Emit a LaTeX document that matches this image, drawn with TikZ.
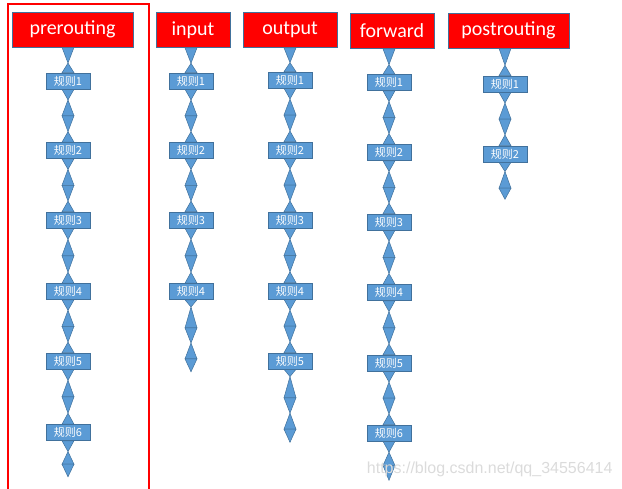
\documentclass[tikz,border=0pt]{standalone}
\usepackage{fontspec}
\setmainfont{Carlito}
\newfontfamily\cjkfont{Noto Sans CJK SC}
\newfontfamily\wmfont{Liberation Sans}
\usetikzlibrary{calc,backgrounds}
\definecolor{hdrred}{HTML}{FF0000}
\definecolor{bluefill}{HTML}{5B9BD5}
\definecolor{blueedge}{HTML}{41719C}
\tikzset{
 hdr/.style={draw=blueedge, line width=0.7pt, fill=hdrred, text=white, font=\fontsize{20}{24}\selectfont, minimum height=35pt, inner sep=0pt},
 rulebox/.style={draw=blueedge, line width=0.6pt, fill=bluefill, text=white, font=\cjkfont\fontsize{11}{12}\selectfont, minimum width=44pt, minimum height=16pt, inner sep=0pt},
 conn/.style={fill=bluefill, draw=blueedge, line width=0.5pt, line join=miter},
 redframe/.style={draw=red, line width=2pt},
}
\newcommand\tri[2]{\path[conn] (#1) -- ($(#2)+(-6,0)$) -- ($(#2)+(6,0)$) -- cycle;}
\newcommand\hlink[2]{\coordinate (qa) at ($(#1)!0.62!(#2)$); \tri{qa}{#1}\tri{qa}{#2}}
\newcommand\blink[2]{\coordinate (qa) at ($(#1)!0.2!(#2)$);
 \coordinate (qm) at ($(#1)!0.5!(#2)$);
 \coordinate (qb) at ($(#1)!0.8!(#2)$);
 \tri{qa}{#1}\tri{qa}{qm}\tri{qb}{qm}\tri{qb}{#2}}
\newcommand\elink[4]{\coordinate (qa) at ($(#1)!#3!(#2)$);
 \coordinate (qm) at ($(#1)!#4!(#2)$);
 \tri{qa}{#1}\tri{qa}{qm}\tri{#2}{qm}}
\newcommand\eelink[2]{\coordinate (qa) at ($(#1)!0.1!(#2)$);
 \coordinate (qm) at ($(#1)!0.39!(#2)$);
 \coordinate (qb) at ($(#1)!0.6!(#2)$);
 \coordinate (qn) at ($(#1)!0.82!(#2)$);
 \tri{qa}{#1}\tri{qa}{qm}\tri{qb}{qm}\tri{qb}{qn}\tri{#2}{qn}}
\begin{document}
\begin{tikzpicture}[x=1pt,y=-1pt]
\useasboundingbox (0,0) rectangle (622,488);
% headers
\node[hdr, minimum width=121pt] (hpre) at (72.5,29.5) {prerouting};
\node[hdr, minimum width=74pt] (hin) at (193,30) {input};
\node[hdr, minimum width=94pt] (hout) at (290,30) {output};
\node[hdr, minimum width=84pt] (hfwd) at (392,31) {forward};
\node[hdr, minimum width=121pt] (hpost) at (508.5,30.5) {postrouting};
% rule boxes
\foreach \i/\y in {1/81,2/150.5,3/220,4/291.5,5/361,6/432.5}
  \node[rulebox] (pre\i) at (68,\y) {规则\i};
\foreach \i/\y in {1/81,2/150.5,3/220,4/291.5}
  \node[rulebox] (in\i) at (191,\y) {规则\i};
\foreach \i/\y in {1/80,2/150,3/220,4/291,5/361}
  \node[rulebox] (out\i) at (290,\y) {规则\i};
\foreach \i/\y in {1/82.5,2/152.5,3/222,4/292.5,5/363,6/433}
  \node[rulebox] (fwd\i) at (389,\y) {规则\i};
\foreach \i/\y in {1/84,2/154}
  \node[rulebox] (post\i) at (505,\y) {规则\i};
% header anchors and end points
\coordinate (tpre) at (hpre.south -| pre1);
\coordinate (tin) at (hin.south -| in1);
\coordinate (tout) at (hout.south -| out1);
\coordinate (tfwd) at (hfwd.south -| fwd1);
\coordinate (tpost) at (hpost.south -| post1);
\coordinate (epre) at ($(pre6.south)+(0,36)$);
\coordinate (ein) at ($(in4.south)+(0,72)$);
\coordinate (eout) at ($(out5.south)+(0,73)$);
\coordinate (efwd) at ($(fwd6.south)+(0,39)$);
\coordinate (epost) at ($(post2.south)+(0,37)$);
\begin{scope}[on background layer]
 \hlink{tpre}{pre1.north}
 \hlink{tin}{in1.north}
 \hlink{tout}{out1.north}
 \hlink{tfwd}{fwd1.north}
 \hlink{tpost}{post1.north}
 \foreach \i/\j in {1/2,2/3,3/4,4/5,5/6} {\blink{pre\i.south}{pre\j.north}}
 \foreach \i/\j in {1/2,2/3,3/4} {\blink{in\i.south}{in\j.north}}
 \foreach \i/\j in {1/2,2/3,3/4,4/5} {\blink{out\i.south}{out\j.north}}
 \foreach \i/\j in {1/2,2/3,3/4,4/5,5/6} {\blink{fwd\i.south}{fwd\j.north}}
 \blink{post1.south}{post2.north}
 \elink{pre6.south}{epre}{0.3}{0.65}
 \eelink{in4.south}{ein}
 \eelink{out5.south}{eout}
 \elink{fwd6.south}{efwd}{0.28}{0.62}
 \elink{post2.south}{epost}{0.25}{0.7}
\end{scope}
% watermark
\node[font=\wmfont\fontsize{16}{16}\selectfont, text=black!14, anchor=east] (wm) at (616,469) {https://blog.csdn.net/qq\_34556414};
% red frame
\draw[redframe] (8,4) rectangle (149,496);
\end{tikzpicture}
\end{document}
